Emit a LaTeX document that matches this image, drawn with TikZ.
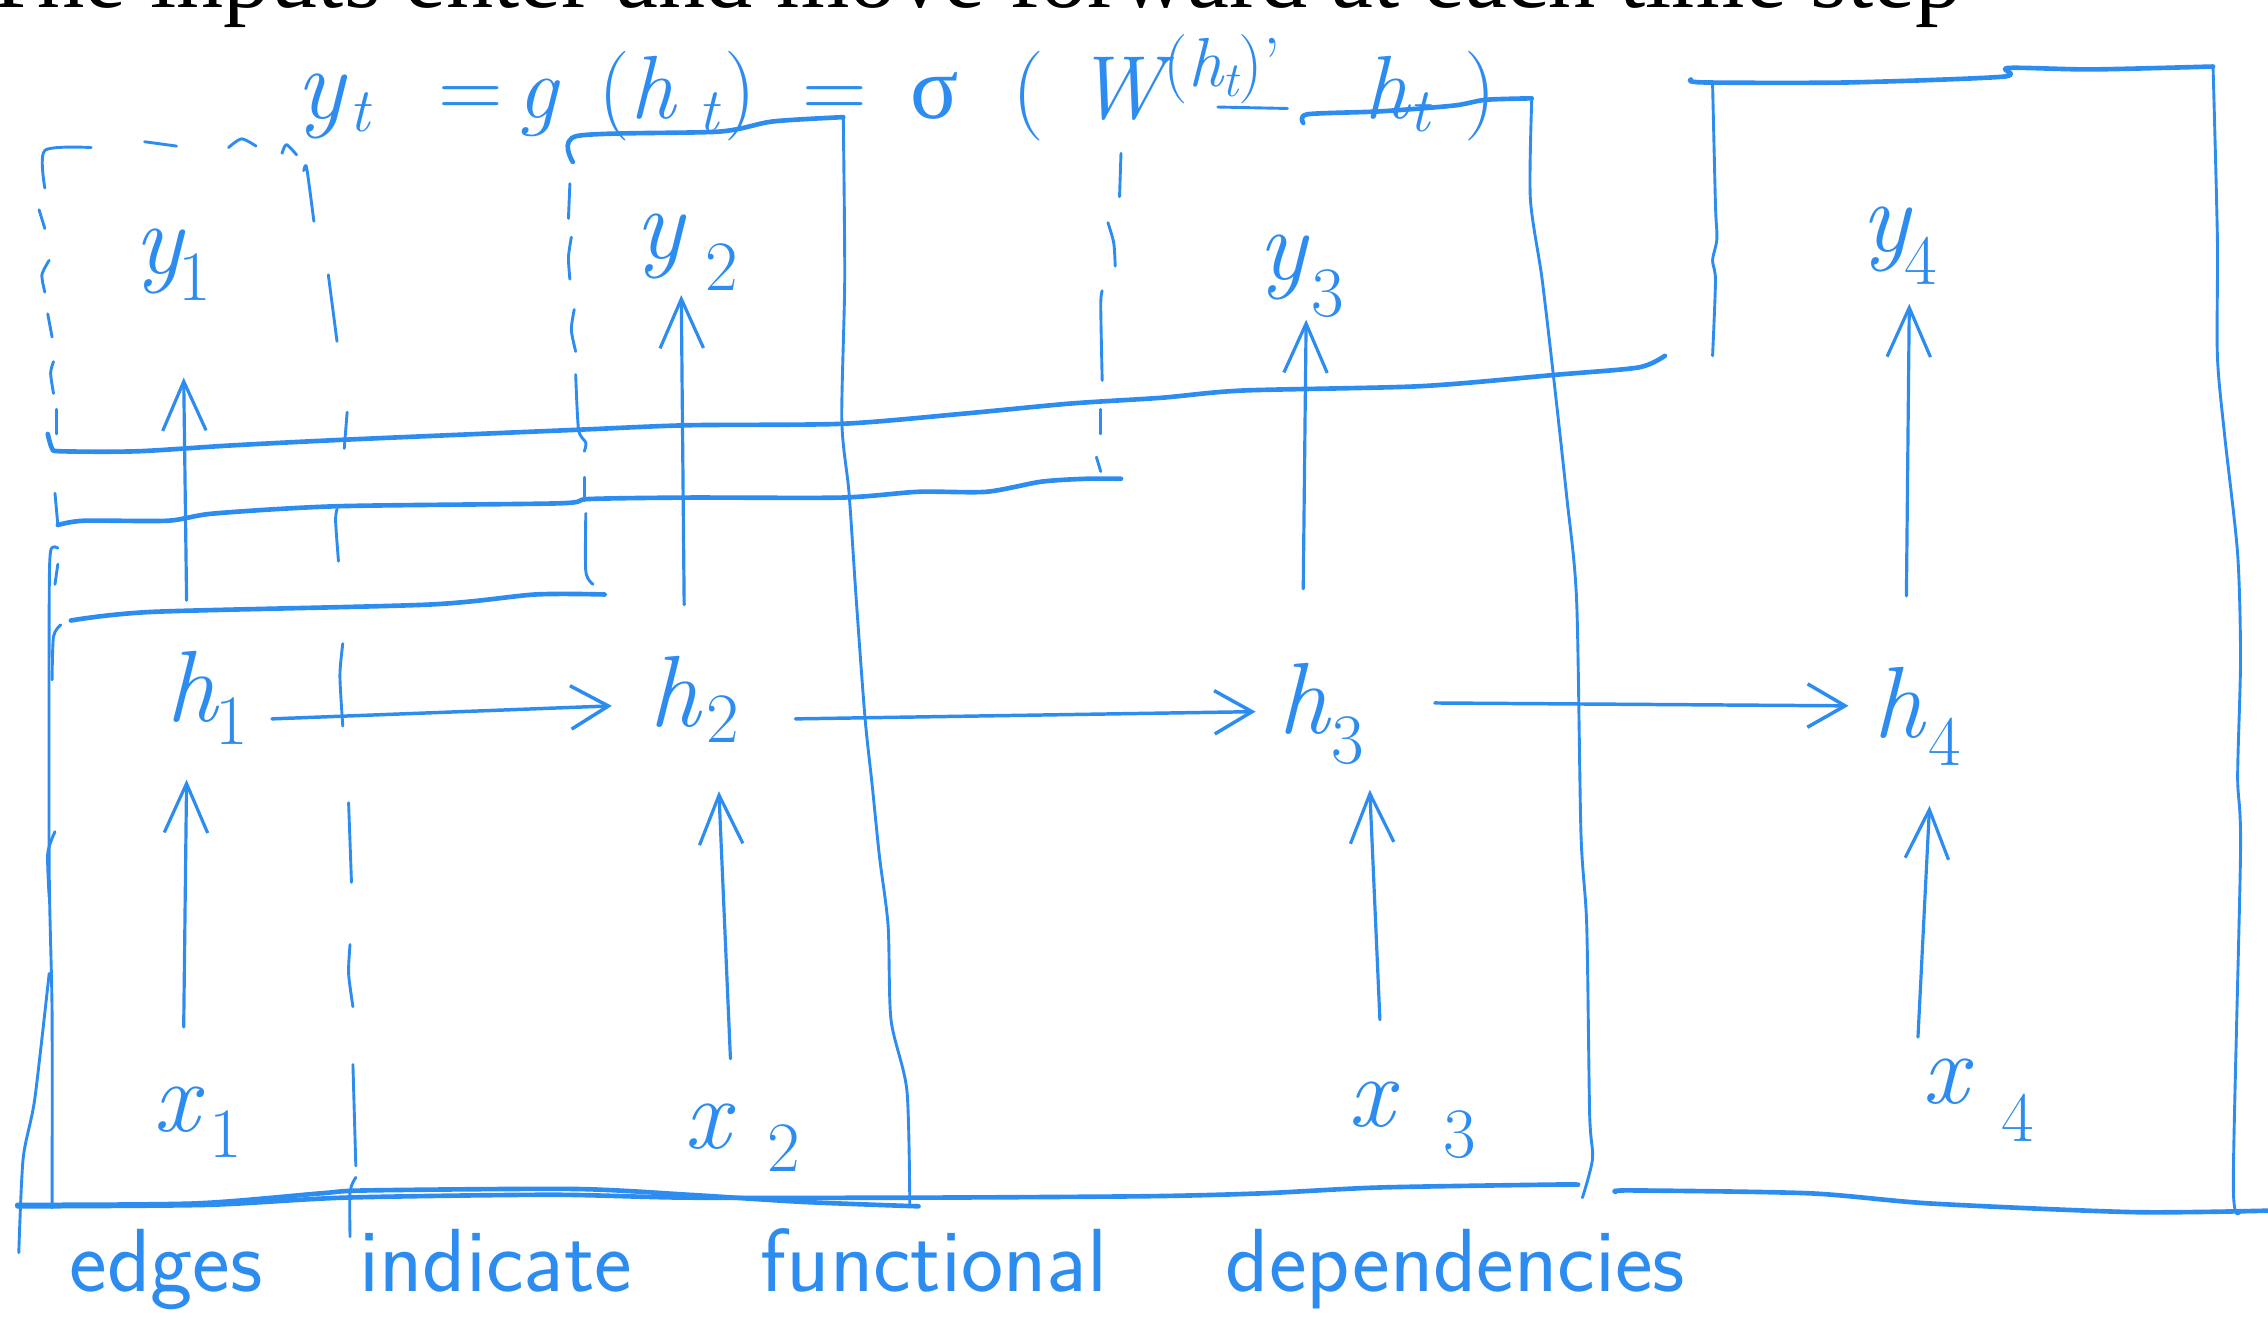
\documentclass[tikz,border=0pt]{standalone}
\usepackage{fontspec}
\newfontfamily\titlefont{Liberation Serif}
\usetikzlibrary{arrows.meta}
\definecolor{inkblue}{RGB}{45,140,240}
\newcommand\hsub[4]{{\itshape #1}\hspace{#2pt}\raisebox{-#3pt}{\fontsize{49}{58}\selectfont #4}}
\newcommand\fsub[1]{\raisebox{-9pt}{\fontsize{43}{50}\selectfont\itshape #1}}
\tikzset{
  ink/.style={draw=inkblue, line width=2pt, line cap=round, line join=round},
  inkthick/.style={ink, line width=3.2pt},
  varr/.style={ink, line width=2.2pt, -{Straight Barb[length=34pt,width=30pt]}},
  harr/.style={ink, line width=2.4pt, -{Straight Barb[length=26pt,width=30pt]}},
  lab/.style={text=inkblue, inner sep=0pt, anchor=base west, font=\fontsize{70}{84}\selectfont},
  sm/.style={smooth, tension=0.45}
}
\begin{document}
\begin{tikzpicture}[x=1pt,y=-1pt]
\useasboundingbox (0,0) rectangle (1568,920);
\fill[white] (0,0) rectangle (1568,920);

% title
\node[anchor=base west, inner sep=0pt, font=\titlefont\fontsize{65.2}{78}\selectfont] (title) at (-14,5)
  {The inputs enter and move forward at each time step};

% formula
\node[anchor=base west, inner sep=0pt, text=inkblue, font=\fontsize{62}{74}\selectfont] (formula) at (205,82)
  {{\fontsize{70}{80}\selectfont\itshape y}\hspace{3pt}\fsub{t}\hspace{48pt}=\hspace{10pt}{\itshape g}\hspace{28pt}({\itshape h}\hspace{16pt}\fsub{t}\hspace{4pt})\hspace{32pt}=\hspace{30pt}{\titlefont σ}\hspace{37pt}(\hspace{22pt}{\itshape W}\raisebox{22pt}{\fontsize{48}{56}\selectfont({\itshape h}\raisebox{-7pt}{\fontsize{34}{40}\selectfont\itshape t})'}\hspace{58pt}{\itshape h}\fsub{t}\hspace{24pt})};
\draw[ink] (842,74) -- (890,75);

% ---------- frames ----------
% dashed frame 1
\draw[ink] plot[sm] coordinates {(31,130) (31,104) (63,102)};
\draw[ink] (100,98) -- (122,101);
\draw[ink] plot[sm] coordinates {(158,102) (167,96) (177,101)};
\draw[ink] plot[sm] coordinates {(195,106) (198,100) (205,107)};
\draw[ink] plot[sm] coordinates {(27,145) (31,158)};
\draw[ink] plot[sm] coordinates {(34,180) (29,190) (31,202)};
\draw[ink] plot[sm] coordinates {(33,217) (36,233)};
\draw[ink] plot[sm] coordinates {(37,250) (35,258) (37,272)};
\draw[ink] plot[sm] coordinates {(39,283) (39,300)};
\draw[ink] plot[sm] coordinates {(38,341) (40,363)};
\draw[ink] plot[sm] coordinates {(40,390) (38,404)};
% dashed vertical x~215..246
\draw[ink] plot[sm] coordinates {(210,118) (212,116) (217,153)};
\draw[ink] plot[sm] coordinates {(227,190) (233,236)};
\draw[ink] plot[sm] coordinates {(240,285) (238,310)};
\draw[ink] plot[sm] coordinates {(233,352) (232,360) (234,388)};
\draw[ink] plot[sm] coordinates {(237,445) (235,467) (237,502)};
\draw[ink] plot[sm] coordinates {(241,555) (243,610)};
\draw[ink] plot[sm] coordinates {(242,653) (241,673) (244,696)};
\draw[ink] plot[sm] coordinates {(244,736) (246,806)};
\draw[ink] plot[sm] coordinates {(246,814) (242,824) (242,855)};
% dashed vertical x~395..410
\draw[ink] plot[sm] coordinates {(394,127) (393,151)};
\draw[ink] plot[sm] coordinates {(395,164) (393,178) (394,193)};
\draw[ink] plot[sm] coordinates {(397,214) (395,228) (398,243)};
\draw[ink] plot[sm] coordinates {(398,259) (400,297) (405,306) (404,312)};
\draw[ink] plot[sm] coordinates {(404,330) (404,346)};
\draw[ink] plot[sm] coordinates {(405,355) (405,395) (410,404)};
% dashed vertical x~760..775
\draw[ink] plot[sm] coordinates {(775,106) (774,136)};
\draw[ink] plot[sm] coordinates {(766,154) (770,168) (771,184)};
\draw[ink] plot[sm] coordinates {(762,201) (761,211) (762,263)};
\draw[ink] plot[sm] coordinates {(761,283) (761,300)};
\draw[ink] plot[sm] coordinates {(758,316) (761,326)};

% horizontal strokes
\draw[inkthick] plot[sm] coordinates {(33,300) (36,310) (42,312) (95,312) (159,308) (238,304) (402,297) (476,294) (582,293) (666,286) (740,279) (803,275) (859,270) (982,267) (1077,259) (1133,254) (1151,246)};
\draw[inkthick] plot[sm] coordinates {(40,363) (58,360) (116,360) (148,355) (233,350) (386,348) (407,345) (476,344) (582,344) (635,340) (682,340) (720,333) (751,331) (775,331)};
\draw[inkthick] plot[sm] coordinates {(49,429) (106,423) (296,418) (370,411) (418,411)};

% frame 2
\draw[inkthick] plot[sm] coordinates {(396,112) (399,94) (497,91) (534,84) (583,81)};
\draw[ink] plot[sm] coordinates {(583,81) (584,193) (582,291) (587,341) (592,415) (598,496) (603,543) (608,592) (614,640) (616,705) (627,754) (629,834)};
% frame 3
\draw[inkthick] plot[sm] coordinates {(901,85) (904,79) (954,77) (1005,73) (1027,69) (1059,68)};
\draw[ink] plot[sm] coordinates {(1059,68) (1058,137) (1066,192) (1074,260) (1083,342) (1090,415) (1093,576) (1097,640) (1099,770) (1101,801) (1094,828)};
% frame 4
\draw[inkthick] plot[sm] coordinates {(1169,55) (1178,57) (1278,57) (1385,53) (1388,47) (1446,48) (1530,46)};
\draw[ink] plot[sm] coordinates {(1184,58) (1186,142) (1187,165) (1184,180) (1186,194) (1184,246)};
\draw[ink] plot[sm] coordinates {(1530,46) (1533,165) (1533,246) (1538,301) (1547,383) (1549,456) (1547,537) (1549,589) (1544,818) (1549,837)};
% left edge
\draw[ink] plot[sm] coordinates {(40,379) (35,381) (34,420) (34,600) (36,700) (36,835)};
\draw[ink] plot[sm] coordinates {(34,673) (24,760) (16,801) (13,866)};
\draw[ink] plot[sm] coordinates {(42,432) (37,440) (36,470)};
\draw[ink] plot[sm] coordinates {(38,575) (33,590) (34,620)};
% bottom edges
\draw[inkthick] plot[sm] coordinates {(12,833) (135,832) (222,825) (254,823) (397,822) (476,826) (556,831) (635,834)};
\draw[inkthick] plot[sm] coordinates {(12,834) (143,833) (238,828) (381,826) (476,828) (635,828) (794,827) (873,825) (953,821) (1072,819) (1091,819)};
\draw[inkthick] plot[sm] coordinates {(1117,824) (1128,823) (1251,825) (1334,832) (1474,838) (1568,837)};

% ---------- labels ----------
\node[lab] (y1) at (93,189) {\hsub{y}{-3}{19}{1}};
\node[lab] (y2) at (439,179) {\hsub{y}{15}{22}{2}};
\node[lab] (y3) at (870,193) {\hsub{y}{3}{26}{3}};
\node[lab] (y4) at (1287,174) {\hsub{y}{-4}{23}{4}};
\node[lab] (h1) at (115,499) {\hsub{h}{-1}{16}{1}};
\node[lab] (h2) at (449,502) {\hsub{h}{4}{11}{2}};
\node[lab] (h3) at (884,507) {\hsub{h}{1}{21}{3}};
\node[lab] (h4) at (1295,510) {\hsub{h}{3}{19}{4}};
\node[lab] (x1) at (106,782) {\hsub{x}{7}{18}{1}};
\node[lab] (x2) at (473,794) {\hsub{x}{26}{16}{2}};
\node[lab] (x3) at (932,779) {\hsub{x}{34}{21}{3}};
\node[lab] (x4) at (1329,763) {\hsub{x}{23}{26}{4}};

% ---------- arrows ----------
\draw[varr] ([xshift=21pt,yshift=72pt]x1.base west) -- ([xshift=14pt,yshift=-40pt]h1.base west);
\draw[varr] ([xshift=14pt,yshift=84pt]h1.base west) -- ([xshift=34pt,yshift=-72pt]y1.base west);
\draw[varr] ([xshift=32pt,yshift=62pt]x2.base west) -- ([xshift=48pt,yshift=-45pt]h2.base west);
\draw[varr] ([xshift=24pt,yshift=84pt]h2.base west) -- ([xshift=32pt,yshift=-25pt]y2.base west);
\draw[varr] ([xshift=22pt,yshift=74pt]x3.base west) -- ([xshift=63pt,yshift=-39pt]h3.base west);
\draw[varr] ([xshift=17pt,yshift=100pt]h3.base west) -- ([xshift=33pt,yshift=-28pt]y3.base west);
\draw[varr] ([xshift=-3pt,yshift=46pt]x4.base west) -- ([xshift=39pt,yshift=-47pt]h4.base west);
\draw[varr] ([xshift=23pt,yshift=98pt]h4.base west) -- ([xshift=33pt,yshift=-36pt]y4.base west);
\draw[harr] ([xshift=73pt,yshift=2pt]h1.base west) -- ([xshift=-26pt,yshift=14pt]h2.base west);
\draw[harr] ([xshift=101pt,yshift=5pt]h2.base west) -- ([xshift=-16pt,yshift=15pt]h3.base west);
\draw[harr] ([xshift=108pt,yshift=21pt]h3.base west) -- ([xshift=-17pt,yshift=22pt]h4.base west);

% caption
\node[anchor=base west, inner sep=0pt, text=inkblue, font=\sffamily\fontsize{62}{74}\selectfont] (caption) at (48,893)
  {edges\hspace{67pt}indicate\hspace{89pt}functional\hspace{82pt}dependencies};
\end{tikzpicture}
\end{document}
